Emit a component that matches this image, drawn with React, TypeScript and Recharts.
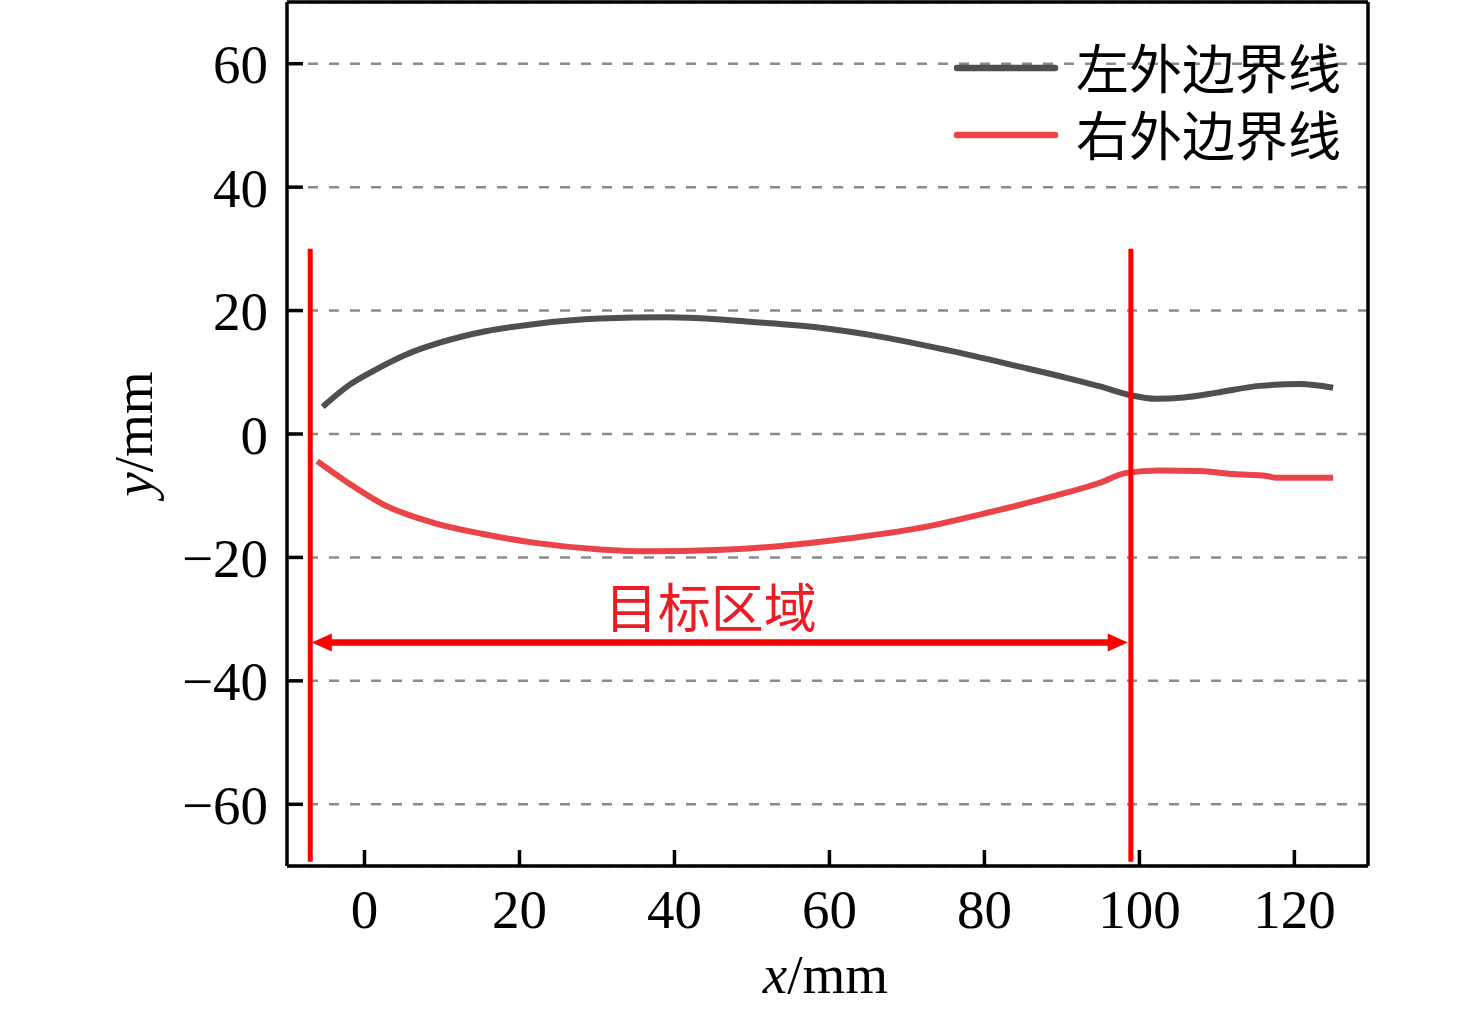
import React from 'react';
import { LineChart, Line, XAxis, YAxis, CartesianGrid, ReferenceLine, Legend } from 'recharts';

const xTicks = [0, 20, 40, 60, 80, 100, 120];
const yTicks = [-60, -40, -20, 0, 20, 40, 60];
const xMin = -10;
const xMax = 129.5;
const yMin = -70;
const yMax = 70;

const seriesNames = ['左外边界线', '右外边界线'];

const leftX = [-5.4, -1.9, 1.1, 5.4, 9.7, 15.8, 21.8, 30.4, 39.0, 45.4, 49.7, 58.3, 66.9, 75.5, 84.2, 90.6, 94.9, 98.8, 102.2, 105.7, 110.0, 115.5, 120.7, 125];
const leftY = [4.4, 8.0, 10.2, 12.9, 14.8, 16.7, 17.8, 18.7, 18.9, 18.6, 18.2, 17.3, 15.7, 13.5, 11.0, 9.1, 7.7, 6.3, 5.7, 5.9, 6.7, 7.8, 8.1, 7.5];

const rightX = [-6.1, -1.9, 2.4, 8.9, 15.3, 21.8, 30.4, 36.8, 45.4, 54, 62.6, 71.3, 79.9, 88.5, 94.9, 98.3, 102.6, 107.8, 112.1, 116.4, 117.7, 125];
const rightY = [-4.4, -8.1, -11.4, -14.4, -16.2, -17.6, -18.7, -19.0, -18.8, -18.1, -16.9, -15.3, -12.9, -10.2, -7.9, -6.3, -5.9, -6.0, -6.5, -6.8, -7.1, -7.1];

const boundaryX = [-7.0, 98.9];
const boundaryTop = 30;
const boundaryBottom = -69.3;
const arrowFrom = -6.8;
const arrowTo = 98.5;
const arrowY = -33.8;
const regionLabel = '目标区域';

const leftData = leftX.map((x, i) => ({ x, y: leftY[i] }));
const rightData = rightX.map((x, i) => ({ x, y: rightY[i] }));

const serif = '"Liberation Serif", "Times New Roman", serif';
const cjk = '"Noto Sans CJK SC", "Noto Sans CJK JP", sans-serif';

const fmt = (v: number) => (v < 0 ? '\u2212' + Math.abs(v) : String(v));

const YTick = (props: any) => {
  const { x, y, payload } = props;
  return (
    <g>
      <line x1={x} y1={y} x2={x + 16} y2={y} stroke="#000" strokeWidth={3.5} />
      <text x={x - 19} y={y + 19.5} textAnchor="end" fontFamily={serif} fontSize={55} fill="#000">
        {fmt(payload.value)}
      </text>
    </g>
  );
};

const XTick = (props: any) => {
  const { x, y, payload } = props;
  return (
    <g>
      <line x1={x} y1={y} x2={x} y2={y - 16} stroke="#000" strokeWidth={3.5} />
      <text x={x} y={y + 62} textAnchor="middle" fontFamily={serif} fontSize={55} fill="#000">
        {fmt(payload.value)}
      </text>
    </g>
  );
};

const XLabel = (props: any) => {
  const vb = props.viewBox || {};
  const cx = vb.x + vb.width / 2 - 2;
  return (
    <text x={cx} y={vb.y + 127} textAnchor="middle" fontFamily={serif} fontSize={55} fill="#000">
      <tspan fontStyle="italic">x</tspan>/mm
    </text>
  );
};

const YLabel = (props: any) => {
  const vb = props.viewBox || {};
  const cy = vb.y + vb.height / 2;
  const bx = 152;
  return (
    <text x={bx} y={cy} transform={`rotate(-90, ${bx}, ${cy})`} textAnchor="middle" fontFamily={serif} fontSize={55} fill="#000">
      <tspan fontStyle="italic">y</tspan>/mm
    </text>
  );
};

const ArrowShape = (props: any) => {
  const { x1, y1, x2, y2 } = props;
  const hl = 20;
  const hw = 9;
  return (
    <g>
      <line x1={x1 + hl - 2} y1={y1} x2={x2 - hl + 2} y2={y2} stroke="#ff0000" strokeWidth={6.5} />
      <polygon points={`${x1},${y1} ${x1 + hl},${y1 - hw} ${x1 + hl},${y1 + hw}`} fill="#ff0000" />
      <polygon points={`${x2},${y2} ${x2 - hl},${y2 - hw} ${x2 - hl},${y2 + hw}`} fill="#ff0000" />
      <text
        x={(x1 + x2) / 2 - 9}
        y={y1 - 38}
        textAnchor="middle"
        dominantBaseline="central"
        fill="#ec1c24"
        fontFamily={cjk}
        fontSize={53}
      >
        {regionLabel}
      </text>
    </g>
  );
};

const LegendContent = (props: any) => {
  const payload = [...(props.payload || [])].sort(
    (a: any, b: any) => seriesNames.indexOf(a.value) - seriesNames.indexOf(b.value)
  );
  return (
    <svg width={430} height={210} style={{ display: 'block', overflow: 'visible' }}>
      {payload.map((p: any, i: number) => {
        const yy = 68 + i * 67;
        return (
          <g key={p.value}>
            <line x1={22} x2={120} y1={yy} y2={yy} stroke={p.color} strokeWidth={6.5} strokeLinecap="round" />
            <text x={141} y={yy - 2} dominantBaseline="central" fontFamily={cjk} fontSize={53} fill="#000">
              {p.value}
            </text>
          </g>
        );
      })}
    </svg>
  );
};

export default function App() {
  return (
    <div style={{ width: 1476, height: 1013, background: '#fff' }}>
      <style>{`body{margin:0;background:#fff}`}</style>
      <LineChart width={1476} height={1013} margin={{ top: 2, right: 108, bottom: 0, left: 0 }}>
        <CartesianGrid vertical={false} stroke="#8a8a8a" strokeWidth={2.5} strokeDasharray="10 11" />
        <XAxis
          dataKey="x"
          type="number"
          domain={[xMin, xMax]}
          ticks={xTicks}
          allowDataOverflow
          height={147}
          tickSize={0}
          tickMargin={0}
          tickLine={false}
          axisLine={{ stroke: '#000', strokeWidth: 3.5 }}
          tick={<XTick />}
          label={<XLabel />}
        />
        <YAxis
          type="number"
          domain={[yMin, yMax]}
          ticks={yTicks}
          allowDataOverflow
          width={287}
          tickSize={0}
          tickMargin={0}
          tickLine={false}
          axisLine={{ stroke: '#000', strokeWidth: 3.5 }}
          tick={<YTick />}
          label={<YLabel />}
        />
        <Line
          data={leftData}
          dataKey="y"
          name={seriesNames[0]}
          type="monotone"
          stroke="#4f4f4f"
          strokeWidth={6}
          dot={false}
          activeDot={false}
          isAnimationActive={false}
        />
        <Line
          data={rightData}
          dataKey="y"
          name={seriesNames[1]}
          type="monotone"
          stroke="#ea4348"
          strokeWidth={6}
          dot={false}
          activeDot={false}
          isAnimationActive={false}
        />
        {boundaryX.map((bx) => (
          <ReferenceLine
            key={bx}
            segment={[{ x: bx, y: boundaryTop }, { x: bx, y: boundaryBottom }]}
            stroke="#ff0000"
            strokeWidth={5}
          />
        ))}
        <ReferenceLine
          segment={[{ x: arrowFrom, y: arrowY }, { x: arrowTo, y: arrowY }]}
          shape={<ArrowShape />}
        />
        <ReferenceLine
          segment={[{ x: xMin, y: yMax }, { x: xMax, y: yMax }]}
          stroke="#000"
          strokeWidth={3.5}
          ifOverflow="visible"
        />
        <ReferenceLine
          segment={[{ x: xMax, y: yMax }, { x: xMax, y: yMin }]}
          stroke="#000"
          strokeWidth={3.5}
          ifOverflow="visible"
        />
        <Legend
          layout="vertical"
          align="center"
          verticalAlign="middle"
          content={<LegendContent />}
          wrapperStyle={{ position: 'absolute', left: 935, top: 0, width: 430, height: 210 }}
        />
      </LineChart>
    </div>
  );
}
